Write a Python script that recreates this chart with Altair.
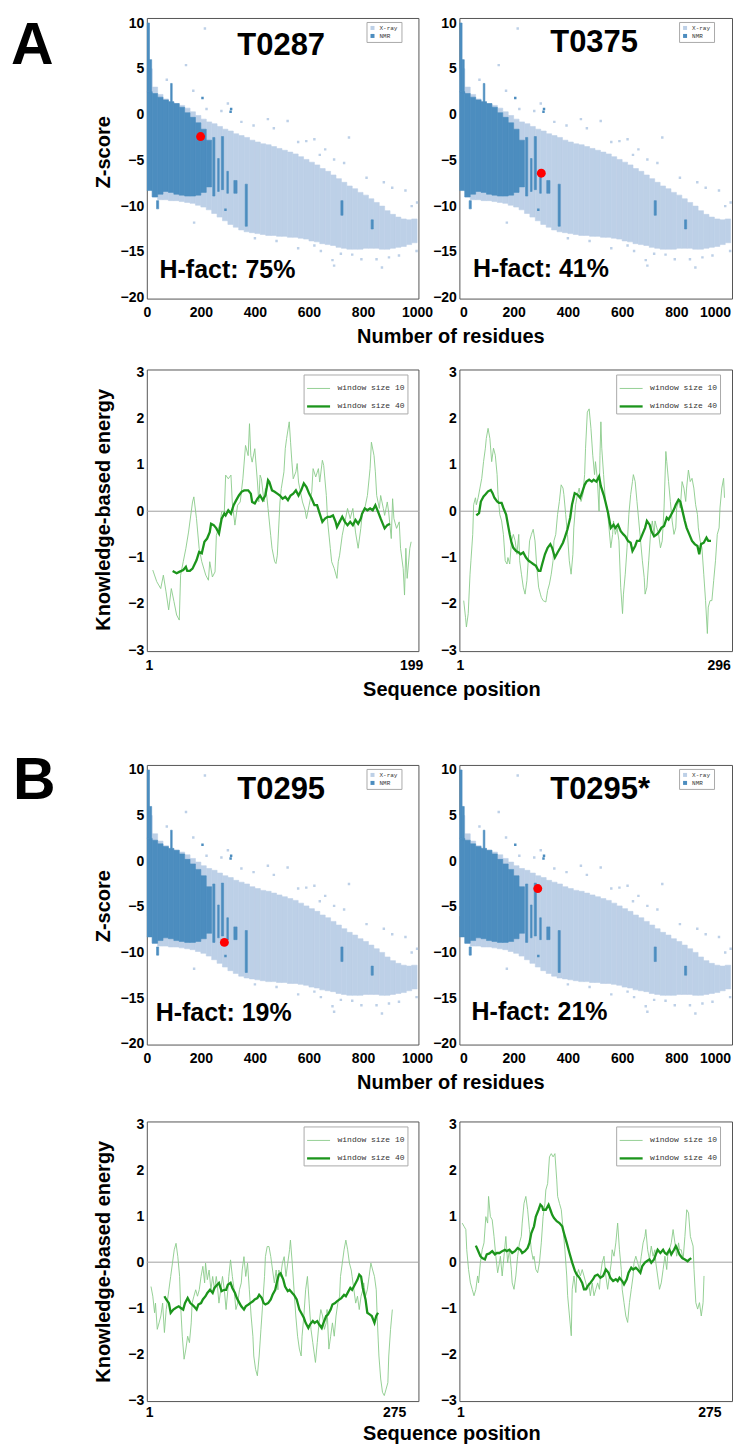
import altair as alt
import pandas as pd

# ---------------- Z-score cloud ----------------
BIN_W = 20
XRAY_BIN_X = [0, 20, 40, 60, 80, 100, 120, 140, 160, 180, 200, 220, 240, 260, 280, 300, 320, 340, 360, 380,
              400, 420, 440, 460, 480, 500, 520, 540, 560, 580, 600, 620, 640, 660, 680, 700, 720, 740, 760, 780,
              800, 820, 840, 860, 880, 900, 920, 940, 960, 980]
XRAY_LO = [-6.0, -9.0, -9.3, -9.3, -9.4, -9.4, -9.5, -9.6, -9.7, -9.9, -10.1, -10.4, -10.8, -11.2, -11.6, -12.0,
           -12.3, -12.6, -12.8, -12.9, -13.0, -13.1, -13.2, -13.2, -13.3, -13.3, -13.4, -13.4, -13.5, -13.6, -13.8,
           -13.9, -14.1, -14.2, -14.3, -14.5, -14.6, -14.7, -14.7, -14.7, -14.6, -14.6, -14.6, -14.7, -14.7, -14.6,
           -14.5, -14.4, -14.2, -14.0]
XRAY_HI = [5.0, 3.0, 2.2, 1.7, 1.4, 1.2, 1.0, 0.7, 0.3, -0.1, -0.5, -0.8, -1.0, -1.3, -1.6, -1.8, -2.1, -2.3, -2.5,
           -2.8, -3.0, -3.2, -3.3, -3.5, -3.7, -3.9, -4.1, -4.3, -4.6, -4.9, -5.2, -5.5, -5.9, -6.2, -6.6, -7.0,
           -7.4, -7.8, -8.1, -8.5, -8.8, -9.2, -9.6, -10.0, -10.5, -10.9, -11.2, -11.4, -11.5, -11.4]
NMR_BIN_X = [0, 20, 40, 60, 80, 100, 120, 140, 160, 180, 200, 220]
NMR_LO = [-8.3, -9.0, -8.7, -8.4, -8.5, -8.7, -8.8, -8.9, -8.9, -8.8, -8.5, -7.9]
NMR_HI = [2.5, 2.3, 1.9, 1.6, 1.4, 1.2, 0.8, 0.2, -0.3, -0.9, -1.6, -2.8]
NMR_STREAK_X0 = [0, 10, 88, 36, 244, 262, 276, 296, 322, 364, 718, 830]
NMR_STREAK_X1 = [10, 18, 94, 44, 252, 268, 284, 302, 334, 372, 726, 838]
NMR_STREAK_LO = [2.5, 2.3, 1.4, -10.3, -8.9, -8.4, -8.2, -8.6, -8.6, -12.2, -11.0, -12.5]
NMR_STREAK_HI = [10.0, 6.0, 3.4, -9.4, -2.5, -4.8, -2.4, -6.2, -7.2, -7.6, -9.4, -11.5]
XRAY_OUT_X = [215, 145, 74, 172, 221, 276, 448, 521, 590, 620, 748, 693, 730, 813, 877, 908, 957, 1000, 640, 560,
              660, 470, 395, 350, 300, 980, 175, 560, 644, 687, 693, 718, 794, 850, 870, 896, 933, 998, 760, 620,
              480, 400]
XRAY_OUT_Z = [9.4, 5.4, 3.8, 2.6, 0.6, 0.4, -0.5, -0.7, -2.9, -2.7, -2.5, -4.9, -5.3, -6.9, -7.4, -8.0, -8.3, -9.6,
              -4.4, -3.0, -3.8, -1.5, -1.2, -0.8, 1.2, -10.0, -11.8, -14.6, -14.9, -15.9, -16.5, -15.2, -15.8,
              -15.8, -16.7, -15.6, -15.4, -14.9, -15.3, -14.3, -13.8, -13.5]
NMR_OUT_X = [310, 312, 291, 206]
NMR_OUT_Z = [0.3, 0.6, -10.4, 1.8]

TARGETS = ["T0287", "T0375", "T0295", "T0295*"]
TARGET_X = [335, 335, 335, 335]
TARGET_Z = [6.5, 6.8, 6.8, 6.8]
HFACT = ["H-fact: 75%", "H-fact: 41%", "H-fact: 19%", "H-fact: 21%"]
HFACT_X = [47, 50, 33, 45]
HFACT_Z = [-17.9, -17.7, -17.5, -17.4]
RED_X = [199, 302, 287, 289]
RED_Z = [-2.4, -6.4, -8.9, -3.0]
LETTERS = ["A", None, "B", None]
RES_TICKS = [0, 200, 400, 600, 800, 1000]
Z_TICKS = [-20, -15, -10, -5, 0, 5, 10]

# ---------------- knowledge-based energy profiles ----------------
SEQ_LEN = [199, 296, 275, 275]
W10_POS = [
    [4, 7, 10, 12, 14, 16, 18, 20, 22, 24, 25, 27, 29, 31, 34, 35, 37, 39, 41, 44, 46, 47, 49, 51, 52, 55, 56, 58,
     59, 61, 63, 64, 66, 68, 70, 72, 74, 76, 77, 78, 79, 81, 83, 84, 85, 86, 88, 89, 90, 91, 93, 94, 96, 97, 98,
     100, 101, 103, 104, 105, 107, 108, 109, 110, 112, 113, 114, 117, 119, 120, 122, 124, 125, 127, 129, 130, 132,
     133, 135, 136, 138, 139, 141, 143, 144, 145, 147, 149, 151, 153, 155, 157, 159, 161, 162, 164, 166, 168, 169,
     171, 172, 173, 175, 176, 178, 179, 181, 182, 184, 185, 186, 188, 190, 191, 193, 194, 195, 196, 198, 199],
    [5, 7, 8, 10, 12, 13, 15, 16, 18, 19, 21, 23, 25, 27, 29, 30, 32, 34, 36, 38, 40, 42, 43, 45, 47, 49, 51, 53,
     54, 56, 58, 60, 62, 64, 66, 67, 69, 71, 73, 75, 77, 78, 80, 82, 84, 86, 88, 90, 91, 93, 96, 98, 100, 102, 104,
     105, 107, 109, 111, 113, 115, 116, 118, 120, 122, 124, 126, 127, 129, 131, 133, 135, 137, 139, 140, 142, 144,
     146, 148, 150, 151, 153, 155, 156, 157, 158, 160, 162, 164, 166, 168, 170, 171, 173, 175, 177, 179, 181, 182,
     184, 186, 188, 190, 192, 193, 195, 197, 199, 201, 203, 205, 206, 208, 210, 212, 214, 216, 217, 219, 221, 223,
     225, 227, 229, 230, 232, 234, 236, 238, 240, 241, 243, 245, 247, 249, 251, 252, 254, 256, 258, 260, 262, 264,
     265, 267, 269, 271, 273, 275, 276, 278, 280, 282, 284, 286, 288, 289, 291, 293, 294],
    [3, 5, 7, 8, 10, 12, 14, 16, 18, 20, 21, 23, 25, 27, 29, 31, 33, 35, 36, 38, 40, 42, 44, 46, 48, 49, 51, 53,
     55, 57, 59, 61, 63, 64, 66, 68, 70, 72, 74, 76, 77, 79, 81, 83, 85, 87, 89, 90, 92, 94, 96, 98, 100, 102, 104,
     105, 107, 109, 111, 113, 115, 117, 118, 120, 122, 124, 126, 128, 130, 131, 133, 135, 137, 139, 141, 143, 145,
     146, 148, 150, 152, 154, 156, 158, 159, 161, 163, 165, 167, 169, 171, 172, 174, 176, 178, 180, 182, 184, 186,
     187, 189, 191, 193, 195, 197, 199, 200, 202, 204, 206, 208, 210, 212, 214, 215, 217, 219, 221, 223, 225, 227,
     228, 230, 232, 234, 236, 238, 240, 241, 243, 245, 247, 249, 251, 253, 255, 256, 258, 260, 262, 264, 266, 268,
     269, 271, 273],
    [3, 5, 7, 8, 10, 12, 14, 16, 18, 20, 21, 23, 25, 27, 29, 31, 32, 34, 36, 38, 40, 42, 44, 45, 47, 49, 51, 53,
     55, 57, 58, 60, 62, 64, 66, 68, 69, 71, 73, 75, 77, 79, 81, 82, 84, 86, 88, 90, 92, 94, 95, 97, 99, 101, 103,
     105, 107, 108, 110, 112, 114, 116, 118, 119, 121, 123, 124, 126, 128, 129, 131, 133, 135, 137, 139, 141, 142,
     144, 146, 148, 150, 152, 154, 155, 157, 159, 161, 163, 165, 167, 168, 170, 172, 174, 176, 178, 179, 181, 183,
     185, 187, 189, 191, 192, 194, 196, 198, 200, 202, 204, 205, 207, 209, 211, 213, 215, 216, 218, 220, 222, 224,
     226, 228, 229, 231, 233, 235, 237, 239, 241, 242, 244, 246, 248, 250, 252, 254, 255, 257, 258, 260, 262, 264,
     266, 268, 269],
]
W10_E = [
    [-1.27, -1.52, -1.67, -1.38, -1.74, -2.13, -1.67, -1.95, -2.24, -2.35, -1.38, -1.09, -0.8, -0.45, 0.2, 0.31,
     -0.16, -0.8, -1.09, -1.38, -1.49, -1.09, -1.42, -1.31, -0.52, -0.23, -0.01, -0.01, 0.78, 0.7, 0.78, 0.2, -0.3,
     0.13, 0.2, 0.7, 1.42, 1.2, 1.89, 1.2, 1.06, 1.35, 0.63, 0.2, 0.78, 0.7, 0.2, 0.49, 0.34, 0.06, -0.52, -0.8,
     -1.09, -1.13, -0.95, 0.2, 0.49, 0.85, 1.35, 1.57, 1.93, 1.49, 1.06, 0.7, 0.85, 1.03, 0.63, 0.2, 0.02, -0.16,
     0.13, 0.42, 0.92, 0.74, 0.92, 0.63, 1.1, 0.99, 0.34, -0.23, -0.8, -1.09, -1.24, -1.45, -1.09, -0.95, -0.52,
     -0.23, 0.06, -0.16, 0.06, -0.45, -0.8, -0.37, -0.09, 0.06, 0.34, 0.92, 1.49, 1.2, 0.85, 0.34, 0.06, 0.34, 0.06,
     -0.09, 0.2, -0.01, -0.59, 0.27, -0.16, -0.37, -0.23, -0.8, -1.24, -1.81, -0.8, -1.45, -0.8, -0.66],
    [-1.93, -2.29, -2.5, -2.21, -1.36, -1.07, -0.5, 0.14, 0.29, 0.14, 0.29, 0.5, 0.71, 1.07, 1.36, 1.57, 1.79, 1.57,
     1.07, 1.36, 1.21, 0.79, 0.36, -0.07, -0.21, -0.5, -1.07, -1.14, -1.0, -1.14, -0.64, -0.5, -0.64, -0.93, -0.5,
     -1.07, -1.36, -1.64, -1.79, -1.5, -0.93, -0.64, -0.5, -0.39, -0.64, -1.21, -1.64, -1.79, -1.86, -1.93, -1.96,
     -1.71, -1.57, -1.36, -1.07, -0.64, -0.5, -0.07, 0.21, 0.57, 0.5, 0.36, -0.07, -0.5, -1.07, -1.36, -0.93,
     -0.36, 0.14, 0.36, 0.5, 0.21, 0.36, 0.79, 1.36, 2.14, 2.21, 1.79, 1.21, 0.79, 1.07, 0.71, 0.0, 1.21, 1.93,
     1.36, 0.79, 0.21, 0.07, -0.36, -0.79, -0.5, -0.21, -0.5, -0.36, -0.64, -1.64, -2.21, -1.79, -1.36, -0.79,
     -0.07, 0.36, 0.64, 0.79, 0.64, 0.21, -0.21, -0.64, -1.07, -1.43, -1.79, -1.64, -1.07, -0.5, -0.21, -0.5,
     -0.21, -0.36, -0.5, -0.79, -0.64, 0.07, 1.29, 1.07, 0.64, 0.21, -0.21, -0.5, -0.36, 0.07, 0.21, 0.07, 0.64,
     0.5, 0.21, 0.5, 0.89, 0.64, 0.71, 0.5, 0.14, -0.07, -0.36, -0.64, -0.79, -1.36, -1.93, -2.64, -2.07, -1.93,
     -1.93, -1.5, -1.07, -0.5, -0.36, 0.07, 0.5, 0.71, 0.29],
    [-0.53, -0.74, -1.1, -0.89, -1.46, -1.32, -1.17, -0.89, -1.53, -1.03, -0.89, -0.6, -0.31, -0.02, 0.27, 0.41,
     0.12, -0.31, -0.89, -1.61, -2.11, -1.89, -1.61, -1.75, -1.32, -0.89, -0.74, -0.6, -0.74, -0.6, -0.31, -0.09,
     -0.45, -0.02, -0.38, -0.17, -0.6, -0.31, -0.6, -0.31, -0.45, -0.89, -0.6, -0.31, -0.6, -1.03, -0.6, -0.31,
     0.05, -0.31, -0.6, -1.03, -0.89, -0.6, -0.45, -0.17, 0.12, -0.31, -0.02, -0.6, -1.17, -1.61, -2.04, -2.33,
     -2.47, -2.04, -1.46, -0.89, -0.31, 0.12, 0.34, 0.34, 0.12, -0.17, -0.45, -0.17, -0.6, -0.17, -0.31, -0.02,
     0.12, -0.31, -0.02, 0.27, 0.48, -0.02, -0.6, -1.17, -1.61, -1.89, -2.04, -1.61, -1.17, -0.6, -0.31, -0.89,
     -1.46, -1.75, -2.04, -2.18, -1.75, -1.32, -1.03, -1.17, -1.46, -1.32, -1.03, -1.89, -1.61, -1.32, -1.61,
     -1.17, -0.89, -0.74, -0.31, -0.02, 0.27, 0.48, 0.27, -0.02, -0.17, -0.31, -0.6, -0.89, -0.74, -1.03, -0.74,
     -0.6, -0.45, -0.74, -0.6, -0.31, -0.02, -0.17, -0.31, -0.6, -1.17, -2.04, -2.54, -2.83, -2.9, -2.76, -2.62,
     -2.04, -1.46, -1.03],
    [0.85, 0.78, 0.71, 0.27, -0.16, -0.45, -0.59, -0.73, -0.59, -0.3, -0.45, -0.01, 0.27, 0.42, 0.99, 0.85, 1.43,
     0.99, 0.92, 0.56, 0.13, -0.23, -0.01, 0.13, -0.3, 0.13, 0.56, -0.01, 0.27, -0.16, -0.45, -0.59, -0.3, 0.13,
     0.42, 0.56, 0.85, 1.28, 1.43, 1.14, 0.71, 0.27, 0.06, 0.13, -0.16, -0.23, -0.01, 0.42, 0.99, 1.28, 1.57, 1.71,
     2.29, 2.36, 2.29, 2.36, 1.79, 1.43, 1.28, 1.14, 0.71, 0.27, -0.3, -0.73, -1.17, -1.6, -0.59, -0.3, -0.66,
     -0.3, -0.16, -0.3, -0.16, -0.3, -0.45, -0.59, -0.45, -0.73, -0.45, -0.73, -0.59, -0.45, -0.59, -0.3, -0.01,
     0.13, -0.3, -0.59, -0.3, -0.01, 0.27, 0.13, 0.42, 0.85, 0.27, -0.16, -0.59, -0.88, -1.17, -1.31, -0.88,
     -0.59, -0.3, -0.01, 0.13, -0.01, -0.16, 0.13, 0.42, 0.56, 0.71, 0.27, 0.06, 0.35, 0.13, 0.27, -0.01, -0.3,
     -0.59, -0.45, -0.16, 0.13, -0.16, 0.13, 0.27, 0.42, 0.71, 0.42, 0.13, 0.42, 0.27, 0.27, 0.06, 0.56, 1.14,
     1.07, 0.56, 0.49, 0.35, -0.16, -0.88, -1.02, -0.88, -1.17, -0.88, -0.3],
]
W40_POS = [
    [19, 22, 24, 27, 29, 30, 32, 34, 37, 39, 41, 43, 45, 47, 48, 50, 52, 54, 56, 58, 59, 61, 63, 65, 67, 69, 71,
     73, 76, 78, 79, 81, 83, 85, 87, 89, 91, 92, 94, 96, 98, 100, 102, 104, 106, 108, 110, 112, 114, 116, 118, 120,
     122, 124, 126, 128, 130, 132, 134, 136, 138, 140, 142, 143, 145, 147, 149, 151, 153, 155, 157, 159, 161, 162,
     164, 166, 168, 170, 172, 174, 176, 177, 179, 181, 183],
    [19, 22, 24, 27, 29, 32, 35, 37, 39, 42, 44, 47, 49, 52, 54, 56, 58, 60, 63, 66, 68, 71, 74, 77, 80, 82, 85,
     88, 90, 92, 95, 98, 101, 103, 106, 109, 112, 115, 117, 120, 123, 125, 128, 131, 134, 136, 139, 141, 144, 147,
     149, 152, 155, 157, 160, 162, 165, 168, 171, 173, 176, 179, 182, 184, 187, 190, 192, 195, 197, 200, 203, 206,
     208, 211, 213, 216, 219, 221, 224, 227, 230, 232, 235, 238, 240, 243, 245, 247, 250, 252, 255, 258, 261, 264,
     266, 268, 271, 274, 276, 279],
    [18, 20, 23, 25, 28, 31, 34, 36, 39, 41, 44, 47, 49, 51, 54, 56, 59, 61, 64, 66, 69, 72, 74, 77, 79, 82, 85,
     87, 89, 92, 94, 97, 99, 102, 104, 107, 109, 112, 114, 117, 119, 122, 124, 127, 129, 131, 134, 137, 139, 142,
     144, 146, 148, 151, 153, 156, 158, 161, 163, 166, 169, 171, 174, 176, 179, 181, 184, 186, 189, 191, 194, 196,
     199, 201, 204, 206, 209, 211, 214, 216, 219, 221, 224, 226, 228, 231, 234, 236, 238, 240, 243, 245, 248, 250,
     253, 255, 257],
    [18, 20, 23, 25, 28, 30, 33, 36, 39, 41, 44, 47, 50, 52, 55, 58, 61, 64, 67, 69, 72, 75, 77, 79, 82, 84, 87,
     89, 91, 92, 95, 98, 100, 102, 104, 107, 110, 113, 115, 118, 121, 124, 127, 129, 132, 135, 137, 139, 141, 144,
     147, 149, 152, 155, 158, 161, 164, 166, 169, 172, 174, 176, 179, 181, 184, 186, 189, 191, 194, 196, 199, 201,
     204, 206, 209, 211, 214, 216, 218, 221, 224, 226, 228, 231, 233, 236, 238, 240, 242, 245, 248, 251, 253, 255],
]
W40_E = [
    [-1.29, -1.34, -1.31, -1.27, -1.2, -1.29, -1.29, -1.24, -1.06, -0.88, -0.91, -0.66, -0.59, -0.45, -0.27, -0.3,
     -0.37, -0.48, -0.16, -0.05, -0.09, 0.02, -0.05, 0.13, 0.24, 0.34, 0.42, 0.45, 0.45, 0.38, 0.2, 0.17, 0.27,
     0.34, 0.24, 0.34, 0.67, 0.63, 0.45, 0.42, 0.38, 0.34, 0.27, 0.31, 0.24, 0.34, 0.38, 0.45, 0.34, 0.45, 0.6,
     0.52, 0.38, 0.27, 0.13, 0.13, -0.05, -0.23, -0.16, -0.12, -0.12, -0.09, -0.23, -0.34, -0.23, -0.12, -0.23,
     -0.3, -0.23, -0.3, -0.19, -0.27, -0.16, -0.05, 0.06, 0.02, 0.06, 0.02, 0.13, -0.01, -0.16, -0.23, -0.37,
     -0.3, -0.27],
    [-0.09, -0.04, 0.21, 0.32, 0.36, 0.43, 0.46, 0.39, 0.29, 0.21, 0.18, 0.18, 0.07, -0.07, -0.29, -0.5, -0.68,
     -0.79, -0.86, -0.89, -0.93, -0.89, -1.0, -1.07, -1.11, -1.14, -1.18, -1.29, -1.29, -1.14, -0.93, -0.79, -0.71,
     -0.79, -1.0, -0.89, -0.79, -0.68, -0.57, -0.39, -0.14, 0.14, 0.39, 0.36, 0.29, 0.39, 0.57, 0.64, 0.68, 0.64,
     0.68, 0.64, 0.75, 0.54, 0.36, 0.21, -0.04, -0.36, -0.29, -0.36, -0.29, -0.43, -0.5, -0.54, -0.64, -0.68,
     -0.86, -0.75, -0.64, -0.64, -0.5, -0.36, -0.21, -0.29, -0.43, -0.54, -0.5, -0.46, -0.36, -0.32, -0.14, -0.18,
     -0.07, 0.04, 0.14, 0.25, 0.21, 0.04, -0.21, -0.36, -0.5, -0.64, -0.71, -0.75, -0.93, -0.71, -0.68, -0.57,
     -0.64, -0.64],
    [-0.74, -0.81, -0.89, -1.1, -1.03, -0.99, -0.96, -0.99, -1.03, -0.89, -0.78, -0.89, -0.92, -0.96, -1.03, -0.92,
     -0.89, -0.81, -0.74, -0.67, -0.6, -0.67, -0.56, -0.49, -0.45, -0.63, -0.6, -0.6, -0.49, -0.45, -0.56, -0.67,
     -0.78, -0.89, -0.96, -1.03, -0.96, -0.92, -0.89, -0.85, -0.81, -0.78, -0.71, -0.78, -0.89, -0.92, -0.89,
     -0.81, -0.71, -0.6, -0.42, -0.27, -0.24, -0.38, -0.53, -0.63, -0.6, -0.67, -0.71, -0.81, -1.03, -1.1, -1.21,
     -1.32, -1.43, -1.35, -1.28, -1.32, -1.28, -1.35, -1.43, -1.32, -1.17, -1.14, -1.03, -0.92, -0.89, -0.85,
     -0.81, -0.78, -0.71, -0.74, -0.63, -0.56, -0.6, -0.49, -0.38, -0.27, -0.31, -0.56, -0.81, -1.1, -1.14, -1.17,
     -1.32, -1.17, -1.1],
    [0.36, 0.27, 0.13, 0.09, 0.06, 0.17, 0.19, 0.24, 0.17, 0.2, 0.2, 0.24, 0.27, 0.24, 0.27, 0.2, 0.24, 0.31, 0.27,
     0.2, 0.24, 0.31, 0.42, 0.63, 0.78, 0.99, 1.14, 1.25, 1.21, 1.14, 1.14, 1.25, 1.14, 1.03, 0.96, 0.89, 0.85,
     0.78, 0.63, 0.42, 0.2, -0.01, -0.19, -0.27, -0.34, -0.45, -0.59, -0.59, -0.52, -0.45, -0.37, -0.3, -0.27,
     -0.34, -0.3, -0.16, -0.23, -0.34, -0.41, -0.37, -0.41, -0.34, -0.41, -0.48, -0.37, -0.23, -0.12, -0.16,
     -0.12, -0.16, -0.23, -0.09, -0.01, 0.02, 0.06, -0.01, 0.06, 0.17, 0.27, 0.2, 0.27, 0.2, 0.17, 0.27, 0.17,
     0.27, 0.35, 0.27, 0.17, 0.09, 0.06, 0.02, 0.06, 0.09],
]
W10_LABEL = "window size 10"
W40_LABEL = "window size 40"
E_TICKS = [-3, -2, -1, 0, 1, 2, 3]

# ---------------- styling / layout ----------------
LIGHT = "#bdd0e7"
DARK = "#4c8dbf"
THIN = "#8acb8a"
THICK = "#1c951c"
FONT = "Liberation Sans"
MONO = "Liberation Mono"
COL_W = [272, 273]
SCATTER_H = [281, 280]
LINE_H = [282, 280]
LINE_XDOM = [[-0.5, 204.5], [0.2, 302.3], [-1.7, 302.2], [-0.1, 299.8]]
LINE_FLUSH = [False, 7, False, False]
ZTITLE_Y = [134, 141]
SEQ_TITLE_Y = [44, 38]
SEQ_LABEL_PAD = [7, 4]
LETTER_POS = [(-136, 46), None, (-134, 34), None]


def cloud_frame():
    rows = []
    for x0, lo, hi in zip(XRAY_BIN_X, XRAY_LO, XRAY_HI):
        rows.append({"x": x0, "x2": x0 + BIN_W, "y": lo, "y2": hi, "set": "X-ray"})
    for x0, lo, hi in zip(NMR_BIN_X, NMR_LO, NMR_HI):
        rows.append({"x": x0, "x2": x0 + BIN_W, "y": lo, "y2": hi, "set": "NMR"})
    for x0, x1, lo, hi in zip(NMR_STREAK_X0, NMR_STREAK_X1, NMR_STREAK_LO, NMR_STREAK_HI):
        rows.append({"x": x0, "x2": x1, "y": lo, "y2": hi, "set": "NMR"})
    return pd.DataFrame(rows)


def outlier_frame():
    rows = [{"x": x, "y": z, "set": "X-ray"} for x, z in zip(XRAY_OUT_X, XRAY_OUT_Z)]
    rows += [{"x": x, "y": z, "set": "NMR"} for x, z in zip(NMR_OUT_X, NMR_OUT_Z)]
    return pd.DataFrame(rows)


def x_axis(values, title, title_x, title_y, flush, flush_offset=0, label_pad=7):
    kw = dict(values=values, format="d", labelFlush=flush, labelFlushOffset=flush_offset,
              labelPadding=label_pad, labelOverlap=False, ticks=False, tickSize=0, domain=False, grid=False)
    if title:
        kw.update(title=title, titleX=title_x, titleY=title_y, titleBaseline="alphabetic",
                  titleAlign="center")
    else:
        kw["title"] = None
    return alt.Axis(**kw)


def y_axis(values, title, title_y):
    kw = dict(values=values, format="d", labelPadding=3, labelOverlap=False, labelFlush=False,
              ticks=False, tickSize=0, domain=False, grid=False)
    if title:
        kw.update(title=title, titleX=-37, titleY=title_y, titleAngle=270,
                  titleBaseline="alphabetic", titleAlign="center")
    else:
        kw["title"] = None
    return alt.Axis(**kw)


def scatter_panel(k):
    left = k % 2 == 0
    w = COL_W[k % 2]
    h = SCATTER_H[k // 2]
    X = alt.X("x:Q", scale=alt.Scale(domain=[0, 1005], nice=False, zero=False),
              axis=x_axis(RES_TICKS, "Number of residues" if left else None, 304, 44,
                          False if left else 3))
    Y = alt.Y("y:Q", scale=alt.Scale(domain=[-20.1, 10.55], nice=False, zero=False),
              axis=y_axis(Z_TICKS, "Z-score" if left else None, ZTITLE_Y[k // 2]))
    legend = alt.Legend(orient="none", legendX=220, legendY=4, title=None, labelFont=MONO,
                        labelFontSize=6, labelColor="#333333", symbolType="square", symbolSize=16,
                        symbolStrokeWidth=0, padding=3, rowPadding=2, labelOffset=4,
                        strokeColor="#aaaaaa", fillColor="white")
    cscale = alt.Scale(domain=["X-ray", "NMR"], range=[LIGHT, DARK])
    color = alt.Color("set:N", scale=cscale, legend=legend)
    cloud = alt.Chart(cloud_frame()).mark_rect(clip=True, strokeWidth=0.6).encode(
        x=X, x2="x2:Q", y=Y, y2="y2:Q", color=color,
        stroke=alt.Stroke("set:N", scale=cscale, legend=None))
    pts = alt.Chart(outlier_frame()).mark_square(size=6, opacity=1, clip=True).encode(x=X, y=Y,
                                                                                      color=color)
    red = alt.Chart(pd.DataFrame({"x": [RED_X[k]], "y": [RED_Z[k]]})).mark_circle(
        size=80, color="#ff0000", opacity=1).encode(x=X, y=Y)
    name = alt.Chart(pd.DataFrame({"x": [TARGET_X[k]], "y": [TARGET_Z[k]], "t": [TARGETS[k]]})).mark_text(
        align="left", baseline="alphabetic", font=FONT, fontSize=31, fontWeight="bold",
        color="black").encode(x=X, y=Y, text="t:N")
    hf = alt.Chart(pd.DataFrame({"x": [HFACT_X[k]], "y": [HFACT_Z[k]], "t": [HFACT[k]]})).mark_text(
        align="left", baseline="alphabetic", font=FONT, fontSize=25, fontWeight="bold",
        color="black").encode(x=X, y=Y, text="t:N")
    layers = [cloud, pts, red, name, hf]
    if LETTERS[k]:
        off = LETTER_POS[k]
        letter = alt.Chart(pd.DataFrame({"t": [LETTERS[k]]})).mark_text(
            align="left", baseline="alphabetic", font=FONT, fontSize=59, fontWeight="bold",
            color="black").encode(x=alt.value(off[0]), y=alt.value(off[1]), text="t:N")
        layers.append(letter)
    return alt.layer(*layers).properties(width=w, height=h)


def line_panel(k):
    left = k % 2 == 0
    w = COL_W[k % 2]
    h = LINE_H[k // 2]
    X = alt.X("pos:Q", scale=alt.Scale(domain=LINE_XDOM[k], nice=False, zero=False),
              axis=x_axis([1, SEQ_LEN[k]], "Sequence position" if left else None, 305, SEQ_TITLE_Y[k // 2],
                          LINE_FLUSH[k], 4, SEQ_LABEL_PAD[k // 2]))
    Y = alt.Y("e:Q", scale=alt.Scale(domain=[-3.02, 3.06], nice=False, zero=False),
              axis=y_axis(E_TICKS, "Knowledge-based energy" if left else None, 140))
    legend = alt.Legend(orient="none", legendX=157, legendY=5, title=None, labelFont=MONO,
                        labelFontSize=8, labelColor="#333333", symbolType="stroke", symbolSize=529,
                        padding=2, rowPadding=1, labelOffset=6, strokeColor="#aaaaaa",
                        fillColor="white")
    dom = [W10_LABEL, W40_LABEL]
    color = alt.Color("series:N", scale=alt.Scale(domain=dom, range=[THIN, THICK]), legend=legend)
    width_enc = alt.StrokeWidth("series:N", scale=alt.Scale(domain=dom, range=[0.9, 2.3]),
                                legend=legend)
    thin_df = pd.DataFrame({"pos": W10_POS[k], "e": W10_E[k], "series": W10_LABEL})
    thick_df = pd.DataFrame({"pos": W40_POS[k], "e": W40_E[k], "series": W40_LABEL})
    zero = alt.Chart(pd.DataFrame({"e": [0]})).mark_rule(color="#a0a0a0", strokeWidth=1).encode(y=Y)
    thin = alt.Chart(thin_df).mark_line().encode(x=X, y=Y, color=color, strokeWidth=width_enc)
    thick = alt.Chart(thick_df).mark_line().encode(x=X, y=Y, color=color, strokeWidth=width_enc)
    return alt.layer(zero, thin, thick).properties(width=w, height=h)


def spacer(w, h):
    return alt.Chart(pd.DataFrame({"v": [0]})).mark_point(opacity=0).encode(
        x=alt.X("v:Q", axis=None), y=alt.Y("v:Q", axis=None)
    ).properties(width=w, height=h, view=alt.ViewBackground(stroke="transparent"))


GAPS = [71, 114, 77]
cells = [
    scatter_panel(0), scatter_panel(1),
    spacer(COL_W[0], GAPS[0]), spacer(COL_W[1], GAPS[0]),
    line_panel(0), line_panel(1),
    spacer(COL_W[0], GAPS[1]), spacer(COL_W[1], GAPS[1]),
    scatter_panel(2), scatter_panel(3),
    spacer(COL_W[0], GAPS[2]), spacer(COL_W[1], GAPS[2]),
    line_panel(2), line_panel(3),
]

chart = alt.concat(*cells, columns=2, spacing={"row": 0, "column": 41}, bounds="flush").resolve_scale(
    color="independent", stroke="independent", strokeWidth="independent"
).resolve_legend(
    color="independent", stroke="independent", strokeWidth="independent"
).properties(
    padding={"left": 2, "top": 6, "right": 0, "bottom": 0}
).configure_view(
    stroke="#555555", strokeWidth=1
).configure_axis(
    labelFont=FONT, titleFont=FONT, labelFontSize=14, labelFontWeight="bold", labelColor="black",
    titleFontSize=20, titleFontWeight="bold", titleColor="black"
)

chart.save("out.html", embed_options={"renderer": "svg", "actions": False})
